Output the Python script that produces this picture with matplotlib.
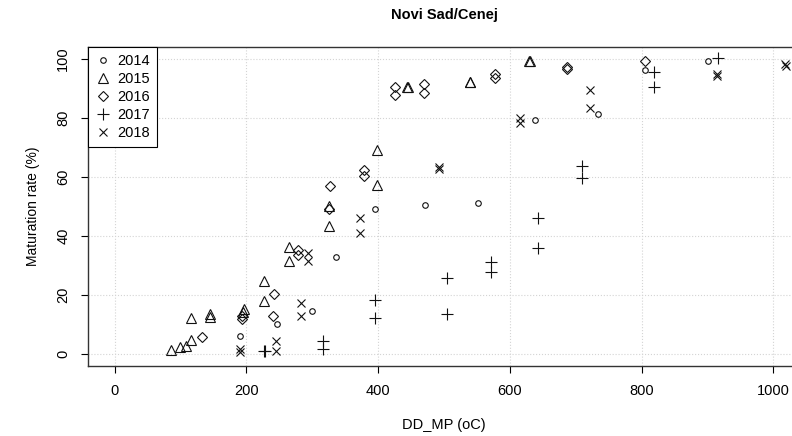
import matplotlib
matplotlib.use('Agg')
import matplotlib.pyplot as plt

plt.rcParams['font.family'] = ['Liberation Sans', 'DejaVu Sans']

# DD_MP (oC) and maturation rate (%) per year
x_2014 = [190, 246, 300, 336, 395, 471, 551, 638, 734, 805, 901]
y_2014 = [6, 10.3, 14.6, 32.8, 49.1, 50.5, 51.1, 79.1, 81.1, 96, 99]

x_2015 = [86, 99, 109, 116, 116, 145, 145, 196, 195, 226, 226, 264, 264,
          326, 326, 398, 398, 444, 445, 539, 540, 629, 630]
y_2015 = [1.3, 2.5, 2.6, 4.7, 12.1, 13.7, 12.6, 15.2, 14.3, 24.8, 17.9, 36.1, 31.4,
          50, 43.5, 69, 57.3, 90.2, 90.5, 92.2, 92, 99.1, 99.2]

x_2016 = [133, 194, 193, 241, 242, 278, 278, 327, 326, 379, 379, 426, 426,
          470, 470, 578, 578, 687, 687, 805]
y_2016 = [5.8, 13, 11.8, 12.9, 20.5, 35.4, 33.5, 57, 49, 62.4, 60.4, 90.4, 87.5,
          91.4, 88.2, 94.7, 93.3, 97.2, 96.6, 99]

x_2017 = [227, 229, 316, 316, 396, 396, 504, 504, 571, 571, 643, 643,
          709, 709, 819, 819, 916]
y_2017 = [1, 1.2, 4.5, 1.6, 18.4, 12.2, 25.8, 13.7, 31.2, 27.8, 46, 36,
          63.5, 59.6, 95.5, 90.2, 100.2]

x_2018 = [190, 190, 245, 245, 283, 283, 294, 294, 373, 373, 493, 492,
          615, 615, 722, 722, 915, 915, 1018, 1019]
y_2018 = [1.8, 0.7, 4.4, 1, 17.4, 12.9, 34.3, 31.5, 46, 40.9, 63.2, 62.6,
          80, 78.3, 89.3, 83.2, 94.7, 94.2, 98.1, 97.6]

years = ['2014', '2015', '2016', '2017', '2018']
xs = [x_2014, x_2015, x_2016, x_2017, x_2018]
ys = [y_2014, y_2015, y_2016, y_2017, y_2018]
markers = ['o', '^', 'D', '+', 'x']
sizes = [4, 6.5, 5, 8, 6]

fig = plt.figure(figsize=(7.92, 4.36), dpi=100)
ax = fig.add_axes([88.3 / 792, 1 - 366 / 436, (799.7 - 88.3) / 792, (366 - 46.7) / 436])

for x, y, m, s, lab in zip(xs, ys, markers, sizes, years):
    ax.plot(x, y, linestyle='none', marker=m, markersize=s, markerfacecolor='none',
            markeredgecolor='#111111', markeredgewidth=0.8, color='black', label=lab)

ax.set_xlim(-40, 1040)
ax.set_ylim(-4, 104)
ax.set_xticks([0, 200, 400, 600, 800, 1000])
ax.set_yticks([0, 20, 40, 60, 80, 100])
ax.set_yticklabels(['0', '20', '40', '60', '80', '100'], rotation=90, va='center')
ax.tick_params(direction='out', length=5, width=0.8, labelsize=10.5, pad=8)
ax.grid(True, color='#d4d4d4', linestyle=':', linewidth=0.8)
ax.set_axisbelow(True)
for sp in ax.spines.values():
    sp.set_color('#333333')
    sp.set_linewidth(1)

ax.set_xlabel('DD_MP (oC)', fontsize=10.5, labelpad=14)
ax.set_ylabel('Maturation rate (%)', fontsize=10, labelpad=12)
ax.set_title('Novi Sad/Cenej', fontsize=10.5, fontweight='bold', pad=20)

leg = ax.legend(loc='upper left', borderaxespad=0, fancybox=False, fontsize=10.5,
                handlelength=1.0, handletextpad=0.5, labelspacing=0.27, borderpad=0.5,
                framealpha=1, edgecolor='black')
leg.get_frame().set_linewidth(0.8)

fig.savefig('out.png', dpi=100)
